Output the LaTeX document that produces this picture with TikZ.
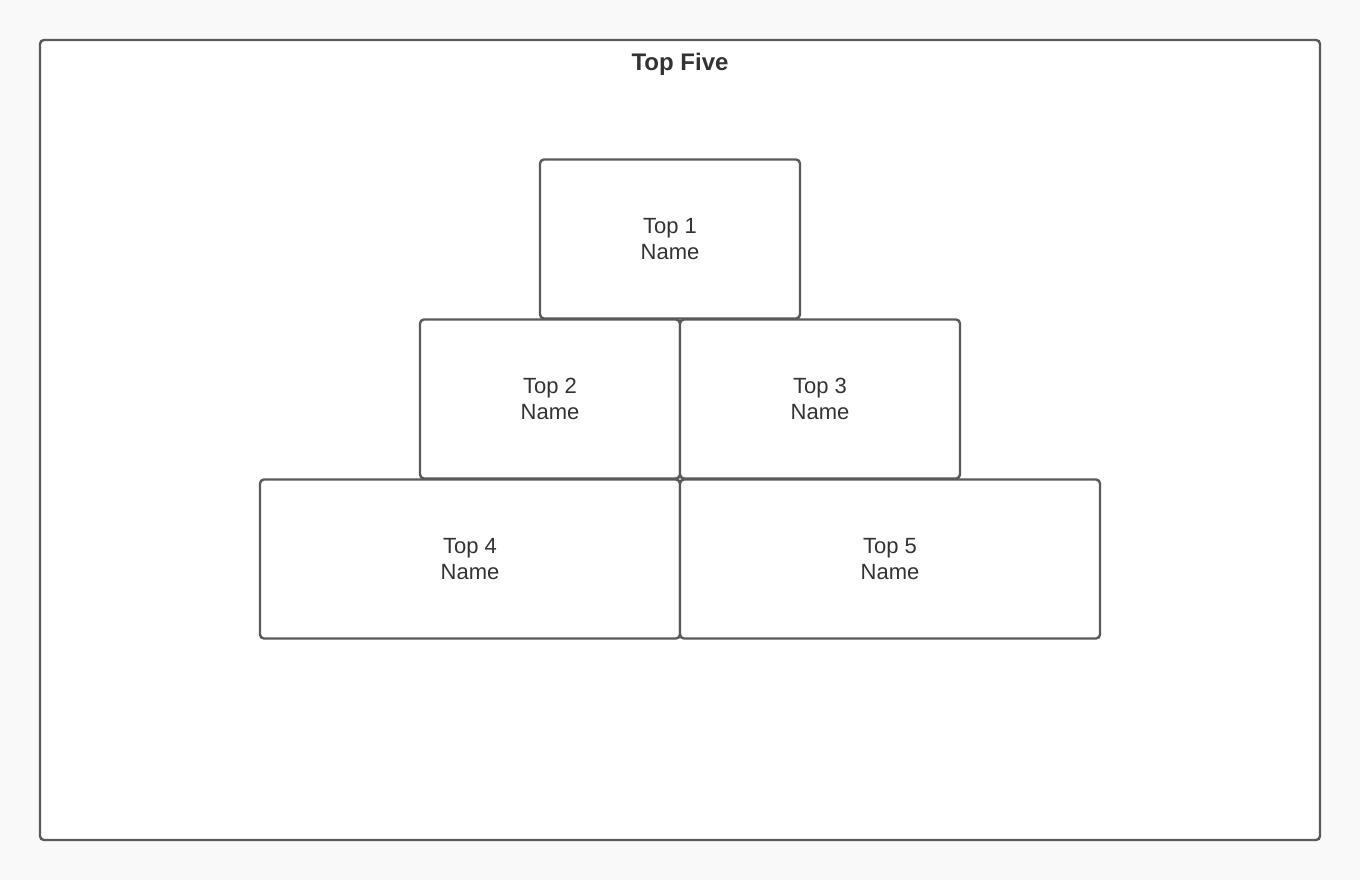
\documentclass[tikz,border=0pt]{standalone}
\usepackage{fontspec}
\setmainfont{Liberation Sans}
\definecolor{linegray}{HTML}{5A5A5A}
\definecolor{textgray}{HTML}{333333}
\definecolor{pagebg}{HTML}{F9F9F9}
\tikzset{
	rankbox/.style={draw=linegray, line width=2.4pt, rounded corners=4pt, fill=white,
		text=textgray, align=center, inner sep=0pt, font=\fontsize{22}{26}\selectfont},
}
\begin{document}
\begin{tikzpicture}[x=1pt, y=-1pt]

	\fill[pagebg] (0,0) rectangle (1360,880);
	\useasboundingbox (0,0) rectangle (1360,880);
	\draw[draw=linegray, line width=2.4pt, rounded corners=4pt, fill=white] (40,40) rectangle (1320,840);
	\node[text=textgray, font=\fontsize{24}{28}\selectfont\bfseries] (title) at (680,64) {Top Five};

	\node[rankbox, minimum width=260pt, minimum height=159pt] (top1) at (670,239) {Top 1\\Name};
	\node[rankbox, minimum width=260pt, minimum height=159pt] (top2) at (550,399) {Top 2\\Name};
	\node[rankbox, minimum width=280pt, minimum height=159pt] (top3) at (820,399) {Top 3\\Name};
	\node[rankbox, minimum width=420pt, minimum height=159pt] (top4) at (470,559) {Top 4\\Name};
	\node[rankbox, minimum width=420pt, minimum height=159pt] (top5) at (890,559) {Top 5\\Name};

\end{tikzpicture}
\end{document}
